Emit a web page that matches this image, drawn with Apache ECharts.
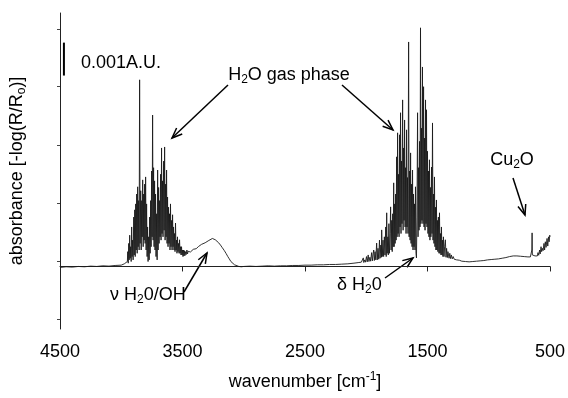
<!DOCTYPE html>
<html>
<head>
<meta charset="utf-8">
<script src="https://cdn.jsdelivr.net/npm/echarts@6/dist/echarts.min.js"></script>
<style>
  html, body { margin: 0; padding: 0; background: #fff; }
  #chart { width: 568px; height: 398px; }
</style>
</head>
<body>
<div id="chart"></div>
<script>
// tick positions (wavenumber, absorbance in 0.001 A.U.)
const xTicks = [4500, 3500, 2500, 1500, 500]
const yTicks = [-1.6, 0.17, 1.93, 3.69, 5.46, 7.22]
// 0.001 A.U. scale bar
const scaleBar = [[4468, 5.8], [4468, 6.8]]

// spectrum pieces: [wavenumber cm-1, absorbance x1000]
const baseLeft = [[4500,-0.03],[4450,-0.01],[4400,-0.02],[4350,0.0],[4300,-0.01],[4250,0.01],[4200,0.0],[4150,0.02],[4100,0.01],[4050,0.03],[4000,0.04],[3975,0.08],[3960,0.12]]
const ohCluster = [[3950,0.15],[3947,0.45],[3943,0.1],[3939,0.7],[3935,0.2],[3931,0.95],[3927,0.25],[3923,0.6],[3919,0.15],[3915,1.2],[3911,0.3],[3907,0.8],[3903,0.2],[3898,1.5],[3894,0.35],[3890,1.72],[3886,0.3],[3882,1.9],[3878,0.5],[3874,2.2],[3870,0.4],[3866,2.42],[3862,0.6],[3858,2.0],[3854,0.5],[3850,5.67],[3846,0.7],[3841,2.3],[3837,0.5],[3833,2.0],[3829,0.9],[3825,2.63],[3821,0.6],[3817,2.2],[3813,0.8],[3809,2.5],[3805,0.7],[3801,2.72],[3797,0.5],[3793,1.9],[3789,0.3],[3785,1.2],[3781,0.15],[3776,0.9],[3772,0.2],[3768,1.5],[3764,0.4],[3760,2.0],[3756,0.6],[3752,2.9],[3748,0.9],[3744,4.6],[3740,0.8],[3736,3.0],[3732,0.6],[3728,2.6],[3724,0.5],[3720,2.2],[3716,0.3],[3711,1.6],[3707,0.2],[3703,2.93],[3699,0.5],[3695,2.4],[3691,0.7],[3687,2.0],[3683,0.9],[3679,2.8],[3675,0.8],[3671,3.6],[3667,1.0],[3663,2.6],[3659,0.9],[3654,3.2],[3650,1.1],[3646,3.63],[3642,0.8],[3638,2.5],[3634,0.9],[3630,2.93],[3626,0.7],[3622,2.11],[3618,0.6],[3614,1.8],[3610,0.7],[3606,1.6],[3602,0.5],[3598,1.9],[3594,0.6],[3589,1.4],[3585,0.5],[3581,1.57],[3577,0.6],[3573,1.2],[3569,0.5],[3565,1.0],[3561,0.45],[3557,1.32],[3553,0.5],[3549,0.8],[3545,0.4],[3541,0.9],[3537,0.45],[3533,0.7],[3528,0.4],[3524,0.81],[3520,0.4],[3516,0.6],[3512,0.35],[3508,0.6],[3504,0.35],[3500,0.5],[3496,0.3],[3492,0.5],[3488,0.32],[3484,0.48],[3480,0.33],[3476,0.45],[3470,0.36],[3464,0.5],[3459,0.38],[3454,0.46],[3448,0.4],[3443,0.5]]
const ohBand = [[3435,0.44],[3428,0.49],[3420,0.45],[3412,0.52],[3404,0.5],[3396,0.56],[3388,0.54],[3378,0.6],[3368,0.61],[3358,0.64],[3345,0.67],[3330,0.7],[3315,0.72],[3300,0.75],[3285,0.79],[3270,0.82],[3256,0.85],[3245,0.84],[3232,0.81],[3220,0.78],[3205,0.72],[3190,0.65],[3175,0.57],[3160,0.49],[3145,0.4],[3130,0.3],[3118,0.23],[3105,0.15],[3090,0.09],[3075,0.05],[3060,0.02],[3040,0.0],[3020,-0.01]]
const baseMid = [[3000,0.0],[2950,0.01],[2900,0.0],[2850,0.01],[2800,0.02],[2750,0.01],[2700,0.02],[2650,0.02],[2600,0.03],[2550,0.03],[2500,0.04],[2450,0.04],[2400,0.05],[2350,0.05],[2300,0.06],[2250,0.06],[2200,0.07],[2150,0.08],[2100,0.1],[2060,0.12],[2040,0.13]]
const bendCluster = [[2030,0.13],[2024,0.26],[2020,0.12],[2012,0.2],[2006,0.13],[1998,0.3],[1992,0.14],[1984,0.35],[1978,0.15],[1970,0.28],[1964,0.16],[1956,0.42],[1950,0.17],[1944,0.38],[1939,0.5],[1934,0.18],[1928,0.45],[1922,0.2],[1915,0.71],[1910,0.2],[1904,0.55],[1898,0.22],[1892,0.8],[1887,0.25],[1881,0.65],[1876,0.28],[1874,1.11],[1869,0.3],[1863,0.8],[1858,0.3],[1852,0.9],[1847,0.35],[1841,1.2],[1837,0.3],[1833,1.63],[1829,0.4],[1824,0.9],[1820,0.35],[1815,1.3],[1811,0.4],[1805,1.0],[1801,1.81],[1797,0.5],[1792,1.4],[1788,0.45],[1784,1.6],[1780,0.6],[1776,2.54],[1772,0.6],[1768,1.9],[1764,0.7],[1760,2.2],[1756,0.8],[1752,3.33],[1748,0.9],[1744,4.06],[1740,1.0],[1736,2.8],[1732,0.9],[1728,4.0],[1724,1.2],[1720,4.67],[1716,1.0],[1712,3.2],[1708,1.3],[1703,5.06],[1699,1.1],[1695,3.6],[1691,1.4],[1687,4.45],[1683,1.2],[1679,3.0],[1675,1.0],[1671,4.15],[1667,1.2],[1663,2.7],[1659,1.0],[1654,6.82],[1650,0.9],[1646,2.9],[1642,0.8],[1638,3.45],[1634,0.7],[1630,2.5],[1626,0.6],[1622,2.93],[1618,0.5],[1614,2.2],[1610,0.6],[1606,1.9],[1602,0.5],[1598,2.42],[1594,0.4],[1590,0.26],[1586,1.5],[1581,4.67],[1577,0.9],[1573,3.0],[1569,1.1],[1565,3.8],[1561,1.2],[1557,7.25],[1553,1.3],[1549,4.2],[1545,1.4],[1541,6.06],[1537,1.3],[1532,5.46],[1528,1.2],[1524,3.9],[1520,1.1],[1516,5.06],[1512,1.3],[1508,4.76],[1504,1.2],[1500,3.5],[1496,1.0],[1492,2.9],[1488,0.9],[1484,3.24],[1480,0.8],[1476,2.4],[1472,0.9],[1467,3.02],[1463,1.0],[1459,4.36],[1455,0.8],[1451,2.2],[1447,0.7],[1443,2.72],[1439,0.6],[1435,1.8],[1431,0.5],[1427,2.02],[1423,0.5],[1419,1.4],[1415,0.45],[1411,1.5],[1406,0.4],[1402,1.63],[1398,0.4],[1394,1.0],[1390,0.35],[1386,1.2],[1382,0.35],[1378,0.8],[1374,0.3],[1370,0.9],[1365,0.3],[1360,0.6],[1354,0.81],[1349,0.28],[1344,0.55],[1338,0.27],[1333,0.45],[1329,0.5],[1324,0.25],[1318,0.4],[1312,0.24],[1305,0.35],[1298,0.23],[1290,0.3],[1282,0.22],[1272,0.27],[1262,0.2],[1250,0.22],[1240,0.19],[1232,0.2]]
const baseRight = [[1220,0.16],[1190,0.15],[1160,0.14],[1130,0.15],[1100,0.16],[1070,0.17],[1040,0.18],[1010,0.2],[980,0.21],[950,0.22],[920,0.23],[890,0.25],[860,0.27],[830,0.3],[800,0.32],[770,0.32],[740,0.31],[710,0.3],[680,0.29],[660,0.29]]
const cu2oRegion = [[652,0.29],[648,0.5],[646,1.02],[644,0.35],[640,0.3],[635,0.31],[630,0.3],[622,0.32],[615,0.3],[608,0.38],[603,0.32],[598,0.42],[592,0.34],[585,0.5],[580,0.38],[573,0.6],[568,0.45],[562,0.55],[556,0.48],[549,0.7],[544,0.5],[538,0.75],[532,0.58],[524,0.85],[518,0.62],[512,0.9],[507,0.75],[502,0.95],[500,0.9]]

const spectrum = [].concat(baseLeft, ohCluster, ohBand, baseMid, bendCluster, baseRight, cu2oRegion)

const FONT = 'Liberation Sans, Arial, Helvetica, sans-serif'
const rich = {
    n: { fontSize: 18, fontFamily: FONT, color: '#000', lineHeight: 22 },
    s: { fontSize: 12, fontFamily: FONT, color: '#000', lineHeight: 12, verticalAlign: 'bottom' },
    p: { fontSize: 12, fontFamily: FONT, color: '#000', lineHeight: 12, verticalAlign: 'top' }
}

function label(x, y, text, align) {
    return {
        type: 'text', x: x, y: y, silent: true,
        style: { text: text, rich: rich, align: align || 'left', verticalAlign: 'middle', fill: '#000' }
    }
}

function arrow(x1, y1, x2, y2) {
    const a = Math.atan2(y2 - y1, x2 - x1), L = 11, w = 0.38
    return {
        type: 'group', silent: true,
        children: [
            { type: 'line', shape: { x1: x1, y1: y1, x2: x2, y2: y2 }, style: { stroke: '#000', lineWidth: 1.5 } },
            {
                type: 'polyline',
                shape: { points: [
                    [x2 - L * Math.cos(a - w), y2 - L * Math.sin(a - w)],
                    [x2, y2],
                    [x2 - L * Math.cos(a + w), y2 - L * Math.sin(a + w)]
                ] },
                style: { stroke: '#000', lineWidth: 1.5, fill: null }
            }
        ]
    }
}

let myChart = echarts.init(document.getElementById('chart'))
myChart.setOption({
    animation: false,
    backgroundColor: '#fff',
    grid: { left: 60, right: 16, top: 13, bottom: 69 },
    xAxis: {
        type: 'value',
        inverse: true,
        min: 500,
        max: 4500,
        name: '{n|wavenumber [cm}{p|-1}{n|]}',
        nameLocation: 'middle',
        nameGap: 42,
        nameTextStyle: { rich: rich },
        axisLine: { lineStyle: { color: '#222', width: 1 } },
        axisTick: { customValues: xTicks, length: 5, lineStyle: { color: '#222' } },
        axisLabel: {
            customValues: xTicks, margin: 14, fontSize: 18, fontFamily: FONT, color: '#000',
            formatter: function (v) { return String(v) }
        },
        splitLine: { show: false }
    },
    yAxis: {
        type: 'value',
        min: -1.9,
        max: 7.7,
        name: '{n|absorbance [-log(R/R}{s|o}{n|)]}',
        nameLocation: 'middle',
        nameGap: 32,
        nameTextStyle: { rich: rich },
        axisLine: { show: true, lineStyle: { color: '#222', width: 1 } },
        axisTick: { show: true, customValues: yTicks, length: 3, lineStyle: { color: '#444' } },
        axisLabel: { show: false },
        splitLine: { show: false }
    },
    series: [
        {
            name: 'spectrum',
            type: 'line',
            data: spectrum,
            symbol: 'none',
            lineStyle: { color: '#1a1a1a', width: 0.9 },
            silent: true
        },
        {
            name: 'scale',
            type: 'line',
            data: scaleBar,
            symbol: 'none',
            lineStyle: { color: '#000', width: 2 },
            silent: true
        }
    ],
    graphic: [
        label(81, 63, '{n|0.001A.U.}'),
        label(289, 75, '{n|H}{s|2}{n|O gas phase}', 'center'),
        arrow(228, 85, 172, 138),
        arrow(342, 85, 393, 130),
        label(110, 295, '{n|ν H}{s|2}{n|0/OH}'),
        arrow(184, 292, 207, 253),
        label(337, 285, '{n|δ H}{s|2}{n|0}'),
        arrow(385, 278, 413, 258),
        label(512, 160, '{n|Cu}{s|2}{n|O}', 'center'),
        arrow(513, 178, 525, 215)
    ]
})
window.addEventListener('resize', function () {
    myChart.resize()
})
</script>
</body>
</html>
